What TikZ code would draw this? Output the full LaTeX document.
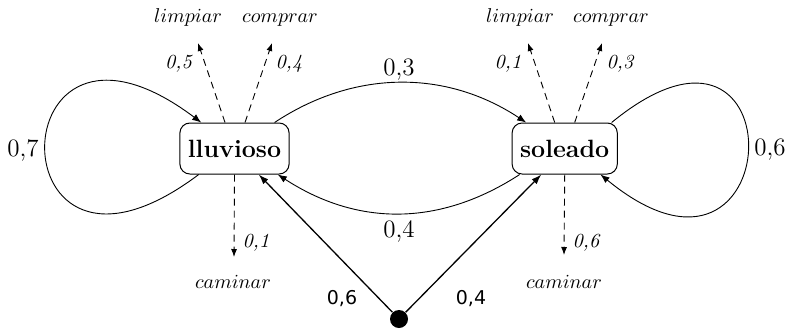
\documentclass[tikz,border=0pt]{standalone}
\usepackage{fontspec}
\usepackage{tikz}
\usetikzlibrary{positioning,arrows.meta}
\newfontfamily\dejavu{DejaVu Sans}

\begin{document}
\begin{tikzpicture}[
    x=0.5pt, y=-0.5pt,
    node distance=111pt,
    % --- Node styles ---
    estado/.style={
      rectangle, rounded corners=5pt, draw, line width=0.5pt,
      minimum height=25.5pt, inner xsep=4pt,
      font=\fontsize{12.5}{15}\selectfont\bfseries,
    },
    prob/.style={font=\fontsize{12.5}{15}\selectfont, inner sep=0pt, anchor=base},
    pobs/.style={font=\itshape, inner sep=0pt, anchor=base},
    accion/.style={inner sep=0pt, anchor=base},
    pini/.style={font=\dejavu\fontsize{9.5}{11}\selectfont, inner sep=0pt, anchor=base},
    inicial/.style={circle, fill=black, inner sep=0pt, minimum size=9pt},
    % --- Arrow styles ---
    trans/.style={-{Latex[length=4.5pt, width=3.5pt]}, line width=0.45pt},
    obs/.style={-{Latex[length=4pt, width=3pt]}, line width=0.45pt,
      dash pattern=on 3.5pt off 2.5pt},
    inicio/.style={-{Latex[length=5pt, width=3.5pt]}, line width=0.65pt},
  ]

    \useasboundingbox (0,0) rectangle (790,328);

    % ===================== STATES =====================
    \node[estado] (lluv) at (234.5,148.5) {lluvioso};
    \node[estado, right=of lluv]          (sol)  {soleado};
    \node[inicial] (ini) at (399,319) {};

    % ===================== TRANSITIONS =====================
    % self loops
    \draw[trans] (lluv.216) .. controls +(-206,155) and +(-206,-155) .. (lluv.142);
    \draw[trans] (sol.29) .. controls +(189,-155) and +(189,155) .. (sol.-36);

    % between states
    \draw[trans] (lluv.33) .. controls +(80,-53) and +(-80,-53) .. (sol.146);
    \draw[trans] (sol.210) .. controls +(-80,52) and +(80,52) .. (lluv.-31);

    \node[prob] (p77) at (23,156)  {0,7};
    \node[prob] (p66) at (770,155) {0,6};
    \node[prob] (p73) at (399,75)  {0,3};
    \node[prob] (p74) at (399,237) {0,4};

    % initial distribution
    \draw[inicio] (ini) -- (lluv.-47);
    \draw[inicio] (ini) -- (sol.-132);
    \node[pini] (pi1) at (342,304) {0,6};
    \node[pini] (pi2) at (471,304) {0,4};

    % ===================== OBSERVATIONS =====================
    \coordinate (l1) at (198,43);
    \coordinate (c1) at (272,43);
    \coordinate (w1) at (234,257);
    \coordinate (l2) at (528,43);
    \coordinate (c2) at (602,43);
    \coordinate (w2) at (564,255);

    \draw[obs] (lluv.110) -- (l1);
    \draw[obs] (lluv.68)  -- (c1);
    \draw[obs] (lluv.-90) -- (w1);
    \draw[obs] (sol.111)  -- (l2);
    \draw[obs] (sol.69)   -- (c2);
    \draw[obs] (sol.-90)  -- (w2);

    \node[pobs] at (178.5,68) {0,5};
    \node[pobs] at (289,68)   {0,4};
    \node[pobs] at (256,247)  {0,1};
    \node[pobs] at (508,68)   {0,1};
    \node[pobs] at (620,68)   {0,3};
    \node[pobs] at (586,247)  {0,6};

    \node[accion] (lim1) at (188,22)  {$limpiar$};
    \node[accion] (com1) at (280,22)  {$comprar$};
    \node[accion] (cam1) at (233,288) {$caminar$};
    \node[accion] (lim2) at (520,22)  {$limpiar$};
    \node[accion] (com2) at (611,22)  {$comprar$};
    \node[accion] (cam2) at (564,288) {$caminar$};

  \end{tikzpicture}
\end{document}
